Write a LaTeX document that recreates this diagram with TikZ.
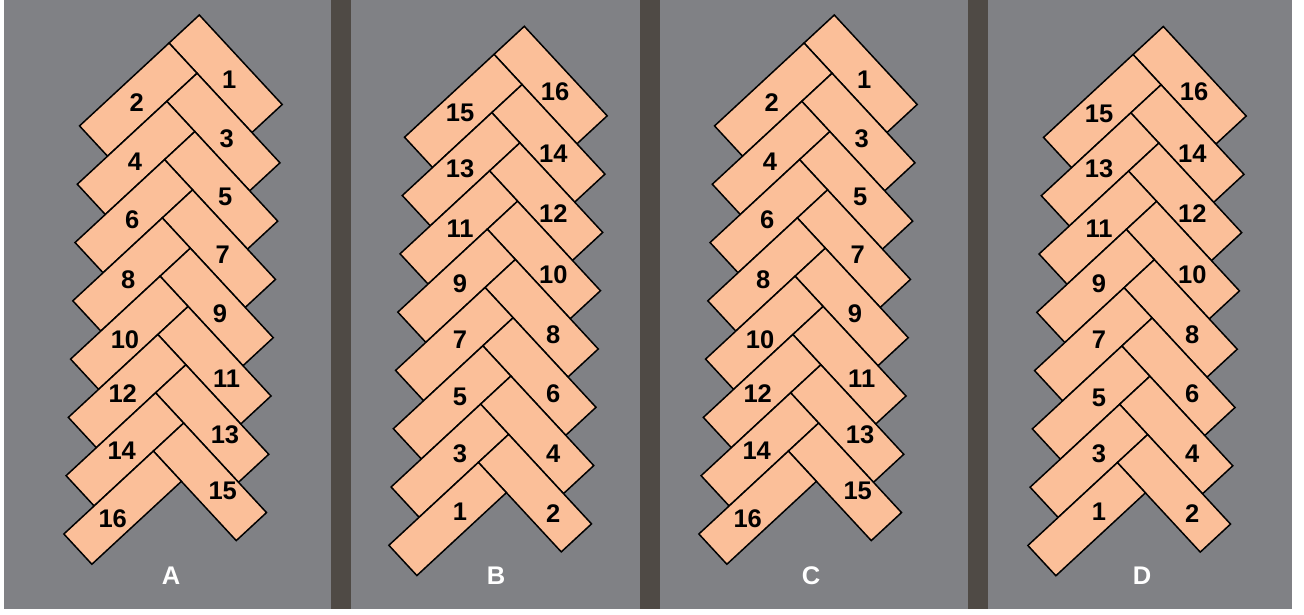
\documentclass[tikz,border=0pt]{standalone}
\usepackage{fontspec}
\setmainfont{Liberation Sans}

\definecolor{floorgray}{RGB}{128,129,133}
\definecolor{gapbrown}{RGB}{79,74,69}
\definecolor{plankfill}{RGB}{251,191,153}

% the sixteen planks of one panel, hung from the top corner of the first one;
% #1 is the name prefix, #2 is 1 when the odd numbers run down the right side
\newcommand{\planks}[2]{%
  \begin{scope}[rotate=-2.2]
    \foreach \k in {0,...,7}{
      \pgfmathtruncatemacro\rnum{#2==1 ? 2*\k+1 : 16-2*\k}
      \pgfmathtruncatemacro\lnum{#2==1 ? 2*\k+2 : 15-2*\k}
      \node[plank, rotate=-47.2] (#1-p\rnum) at (28.55, 57.72+58.34*\k) {};
      \node[plank, rotate=42.8] (#1-p\lnum) at (-57.72, 86.89+58.34*\k) {};
    }
  \end{scope}}

% number positions, measured from the top corner of the panel
\newcommand{\labelsAC}{1/30/65, 2/-62.6/87.7, 3/27.4/123.3, 4/-64.3/146.7,
  5/26/182.3, 6/-67/204.3, 7/23.4/240, 8/-71/265, 9/20.7/298.3,
  10/-74.3/325, 11/27.4/363.3, 12/-76.6/378.3, 13/25.7/420,
  14/-77.6/435.7, 15/23.4/475.5, 16/-86.6/503.3}
\newcommand{\labelsBD}{16/30.7/65.4, 15/-64.3/87, 14/29/127, 13/-64.3/142,
  12/29/187, 11/-64.3/202, 10/29/248.7, 9/-64.3/257, 8/29/308.7,
  7/-64.3/313.7, 6/29/367, 5/-64.3/371, 4/29/427.7, 3/-64.3/427.7,
  2/29/487, 1/-64.3/485.4}

\begin{document}
\begin{tikzpicture}[
  x=1pt, y=-1pt,
  plank/.style={draw, line width=1.5pt, fill=plankfill, rectangle,
    minimum width=122pt, minimum height=41.25pt, inner sep=0pt},
  num/.style={font=\bfseries\fontsize{25.5}{30}\selectfont, inner sep=0pt},
  title/.style={text=white, font=\bfseries\fontsize{25.5}{30}\selectfont,
    inner sep=0pt}
]
\path[use as bounding box, fill=white] (0,0) rectangle (1304,615);
\fill[gapbrown] (4,0) rectangle (1292,609);
\foreach \l/\r in {4/331, 351/640, 660/968, 988/1292}
  \fill[floorgray] (\l,0) rectangle (\r,609);

% A
\begin{scope}[shift={(199.3,15)}]
  \planks{a}{1}
  \foreach \n/\x/\y in \labelsAC
    \node[num] (a-n\n) at (\x,\y) {\n};
\end{scope}
% B
\begin{scope}[shift={(524.3,26.3)}]
  \planks{b}{0}
  \foreach \n/\x/\y in \labelsBD
    \node[num] (b-n\n) at (\x,\y) {\n};
\end{scope}
% C
\begin{scope}[shift={(834.3,15)}]
  \planks{c}{1}
  \foreach \n/\x/\y in \labelsAC
    \node[num] (c-n\n) at (\x,\y) {\n};
\end{scope}
% D
\begin{scope}[shift={(1163.3,26.5)}]
  \planks{d}{0}
  \foreach \n/\x/\y in \labelsBD
    \node[num] (d-n\n) at (\x,\y) {\n};
\end{scope}

\node[title] (a-title) at (171,576) {A};
\node[title] (b-title) at (496,576) {B};
\node[title] (c-title) at (811,576) {C};
\node[title] (d-title) at (1142,576) {D};
\end{tikzpicture}
\end{document}
